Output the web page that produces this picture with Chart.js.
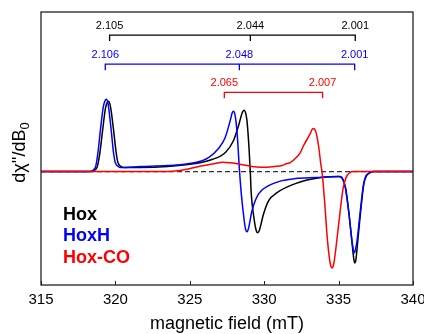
<!DOCTYPE html>
<html>
<head>
<meta charset="utf-8">
<script src="https://cdn.jsdelivr.net/npm/chart.js@4.4.1/dist/chart.umd.min.js"></script>
<style>
    html, body { margin: 0; padding: 0; background: #ffffff; }
    #wrap { width: 424px; height: 334px; position: relative; }
</style>
</head>
<body>
<div id="wrap"><canvas id="eprChart"></canvas></div>
<script>
// Spectres EPR (champ en mT, signal en unités arbitraires)
const hoxPoints = [
    [315, 0], [318.3, 0], [318.76, 4], [318.95, 18], [319.14, 41], [319.33, 63], [319.44, 68.5], [319.54, 70],
    [319.63, 67.5], [319.72, 60], [319.88, 41], [320.05, 19], [320.17, 9], [320.4, 5], [320.6, 4], [321.7, 4],
    [323.5, 5], [325.37, 8], [326.49, 12], [327.39, 19], [327.94, 31], [328.28, 46], [328.51, 58],
    [328.59, 60.5], [328.66, 61], [328.74, 59], [328.84, 51], [328.99, 21], [329.07, -2], [329.13, -22],
    [329.3, -45], [329.45, -58], [329.56, -61], [329.66, -59], [329.96, -42], [330.3, -29], [330.86, -21],
    [332.09, -12], [333.8, -6], [335.1, -5], [335.3, -8], [335.48, -17], [335.7, -42], [335.93, -75],
    [336.03, -88], [336.1, -91], [336.17, -87], [336.27, -72], [336.48, -40], [336.7, -12], [336.88, -4],
    [337.1, -1], [337.4, 0], [340, 0]
];
const hoxHPoints = [
    [315, 0], [318.2, 0], [318.65, 4], [318.82, 18], [318.99, 41], [319.18, 64], [319.29, 70], [319.39, 72],
    [319.48, 69.5], [319.57, 61], [319.72, 41], [319.88, 18], [319.99, 9], [320.2, 5], [320.33, 4], [321.7, 5],
    [323.5, 6], [325.37, 9], [326.26, 14], [326.93, 23], [327.38, 34], [327.72, 51], [327.85, 58.5],
    [327.94, 60], [328.03, 57], [328.12, 48], [328.22, 30], [328.32, 5], [328.46, -22], [328.65, -48],
    [328.75, -57.5], [328.85, -60], [328.94, -57], [329.18, -39], [329.63, -22], [330.3, -14], [331.2, -9],
    [332.09, -7], [333.5, -6], [335.0, -5], [335.25, -7], [335.45, -16], [335.67, -39], [335.9, -69],
    [335.99, -78], [336.06, -81], [336.13, -78], [336.24, -69], [336.46, -39], [336.68, -12], [336.85, -4],
    [337.02, -2], [337.3, 0], [340, 0]
];
const hoxCOPoints = [
    [315, 0], [323.5, 0], [324.3, 1], [325.03, 3], [325.6, 5], [326.15, 6.5], [326.7, 8], [327.2, 9.3],
    [327.72, 8.7], [328.3, 7.5], [329.0, 5.5], [329.5, 4.5], [330.2, 4.3], [330.7, 5], [331.2, 6],
    [331.53, 8], [331.75, 9], [332.09, 13], [332.43, 19], [332.65, 26], [333.1, 38], [333.22, 42],
    [333.32, 43], [333.42, 41.5], [333.5, 38], [333.66, 25], [333.8, 8], [333.9, -2], [334.05, -28],
    [334.25, -68], [334.42, -90], [334.5, -95], [334.56, -96], [334.63, -94.5], [334.7, -90], [334.9, -66],
    [335.1, -40], [335.3, -17], [335.5, -6], [335.75, -1], [336.0, 0], [340, 0]
];

// Valeurs g et positions (mT) des barres du haut
const hoxGLabels = ['2.105', '2.044', '2.001'];
const hoxGFields = [319.61, 329.07, 336.12];
const hoxHGLabels = ['2.106', '2.048', '2.001'];
const hoxHGFields = [319.32, 328.33, 336.08];
const hoxCOGLabels = ['2.065', '2.007'];
const hoxCOGFields = [327.32, 333.92];

const seriesNames = ['Hox', 'HoxH', 'Hox-CO'];
const xTickMin = 315;
const xTickMax = 340;
const xTickStep = 5;

const FONT = "'Liberation Sans', Arial, sans-serif";
const BLACK = '#000000';
const BLUE = '#0000ff';
const RED = '#ff0000';

function toXY(points) {
    return points.map(p => ({ x: p[0], y: p[1] }));
}

// crochet : ligne horizontale + petites barres verticales vers le bas
function bracket(fields, level, drop) {
    const first = fields[0];
    const last = fields[fields.length - 1];
    const pts = [
        { x: first, y: level - drop }, { x: first, y: level },
        { x: last, y: level }, { x: last, y: level - drop }, { x: last, y: null }
    ];
    fields.slice(1, -1).forEach(f => {
        pts.push({ x: f, y: level }, { x: f, y: level - drop }, { x: f, y: null });
    });
    return pts;
}

const bracketSets = [
    { labels: hoxGLabels, fields: hoxGFields, level: 136, color: BLACK },
    { labels: hoxHGLabels, fields: hoxHGFields, level: 107, color: BLUE },
    { labels: hoxCOGLabels, fields: hoxCOGFields, level: 79, color: RED }
];

const curveStyle = {
    borderWidth: 1.5,
    pointRadius: 0,
    fill: false,
    cubicInterpolationMode: 'monotone'
};

const datasets = [
    Object.assign({ label: seriesNames[0], data: toXY(hoxPoints), borderColor: BLACK, order: 3 }, curveStyle),
    Object.assign({ label: seriesNames[1], data: toXY(hoxHPoints), borderColor: BLUE, order: 2 }, curveStyle),
    Object.assign({ label: seriesNames[2], data: toXY(hoxCOPoints), borderColor: RED, order: 1 }, curveStyle),
    {
        label: 'baseline',
        data: [{ x: xTickMin, y: 0 }, { x: xTickMax, y: 0 }],
        borderColor: '#333333',
        borderWidth: 1.3,
        borderDash: [5, 3],
        pointRadius: 0,
        order: 4
    }
];
bracketSets.forEach(b => {
    datasets.push({
        label: 'g-' + b.labels.join('/'),
        data: bracket(b.fields, b.level, 6),
        borderColor: b.color,
        borderWidth: 1.3,
        pointRadius: 0,
        tension: 0,
        spanGaps: false,
        order: 0
    });
});

// cadre + graduations internes
const framePlugin = {
    id: 'frame',
    afterDraw(chart) {
        const { ctx, chartArea: a, scales } = chart;
        ctx.save();
        ctx.strokeStyle = '#222222';
        ctx.lineWidth = 1.3;
        ctx.strokeRect(a.left, a.top, a.right - a.left, a.bottom - a.top);
        ctx.lineWidth = 1;
        scales.x.ticks.forEach(t => {
            const px = Math.round(scales.x.getPixelForValue(t.value)) + 0.5;
            ctx.beginPath();
            ctx.moveTo(px, a.bottom);
            ctx.lineTo(px, a.bottom - 4);
            ctx.stroke();
        });
        ctx.restore();
    }
};

// étiquettes g au-dessus des crochets
const gLabelPlugin = {
    id: 'gLabels',
    afterDatasetsDraw(chart) {
        const { ctx, scales } = chart;
        ctx.save();
        ctx.font = '11px ' + FONT;
        ctx.textAlign = 'center';
        ctx.textBaseline = 'middle';
        bracketSets.forEach(b => {
            ctx.fillStyle = b.color;
            b.labels.forEach((txt, i) => {
                ctx.fillText(txt, scales.x.getPixelForValue(b.fields[i]), scales.y.getPixelForValue(b.level + 9));
            });
        });
        ctx.restore();
    }
};

// légende en texte gras dans le graphique
const textLegendPlugin = {
    id: 'textLegend',
    afterDraw(chart) {
        const { ctx, chartArea: a } = chart;
        ctx.save();
        ctx.font = 'bold 18px ' + FONT;
        ctx.textAlign = 'left';
        ctx.textBaseline = 'middle';
        chart.data.datasets.slice(0, 3).forEach((ds, i) => {
            ctx.fillStyle = ds.borderColor;
            ctx.fillText(ds.label, a.left + 22, a.top + 203 + i * 21.5);
        });
        ctx.restore();
    }
};

// titre de l'axe y avec indice
const yTitlePlugin = {
    id: 'yTitle',
    afterDraw(chart) {
        const { ctx, chartArea: a } = chart;
        const main = "d\u03C7''/dB";
        ctx.save();
        ctx.translate(20, (a.top + a.bottom) / 2 + 4);
        ctx.rotate(-Math.PI / 2);
        ctx.fillStyle = '#000000';
        ctx.textBaseline = 'middle';
        ctx.font = '18px ' + FONT;
        const w = ctx.measureText(main).width;
        ctx.font = '13px ' + FONT;
        const ws = ctx.measureText('0').width;
        const x0 = -(w + ws) / 2;
        ctx.font = '18px ' + FONT;
        ctx.textAlign = 'left';
        ctx.fillText(main, x0, 0);
        ctx.font = '13px ' + FONT;
        ctx.fillText('0', x0 + w, 5);
        ctx.restore();
    }
};

new Chart(document.getElementById('eprChart'), {
    type: 'line',
    data: { datasets: datasets },
    options: {
        responsive: true,
        maintainAspectRatio: false,
        animation: false,
        events: [],
        layout: { padding: { left: 41, right: 11, top: 12, bottom: 1 } },
        plugins: { legend: { display: false }, tooltip: { enabled: false } },
        scales: {
            x: {
                type: 'linear',
                min: xTickMin,
                max: xTickMax,
                border: { display: false },
                grid: { display: false, drawTicks: false },
                ticks: { stepSize: xTickStep, padding: 6, color: '#000000', font: { family: FONT, size: 15 } },
                title: {
                    display: true,
                    text: 'magnetic field (mT)',
                    color: '#000000',
                    font: { family: FONT, size: 18, lineHeight: 1.0 },
                    padding: { top: 0, bottom: 0 }
                },
                afterFit(scale) {
                    // le libellé "340" peut déborder à droite comme sur l'original
                    scale.paddingRight = 0;
                }
            },
            y: {
                type: 'linear',
                display: false,
                min: -113,
                max: 159
            }
        }
    },
    plugins: [framePlugin, gLabelPlugin, textLegendPlugin, yTitlePlugin]
});
</script>
</body>
</html>
